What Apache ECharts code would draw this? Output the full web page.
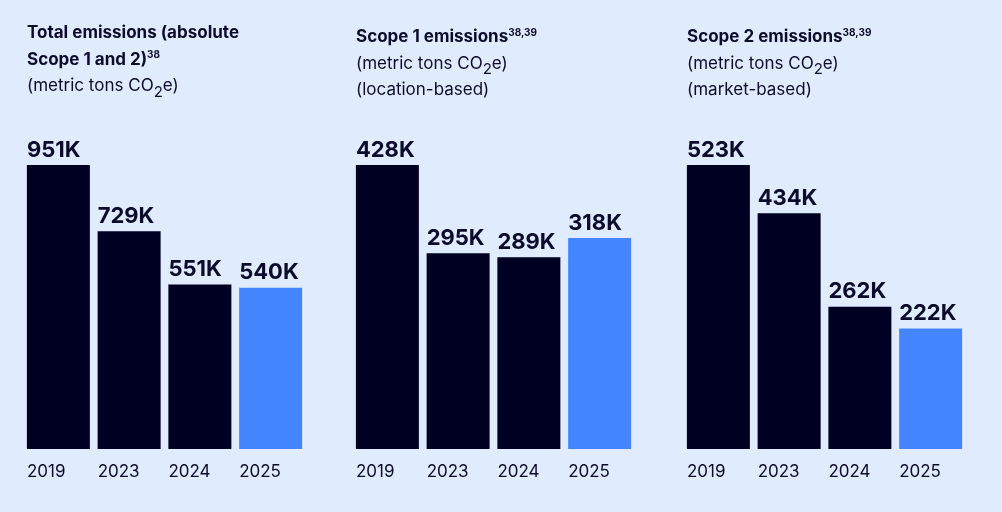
<!DOCTYPE html>
<html>
<head>
<meta charset="utf-8">
<script src="https://cdn.jsdelivr.net/npm/echarts@6/dist/echarts.min.js"></script>
<style>
  html, body { margin: 0; padding: 0; background: #e0ebfd; }
  #main { width: 1002px; height: 512px; }
</style>
</head>
<body>
<div id="main"></div>
<script>
// 数据
var years = ['2019', '2023', '2024', '2025'];
var totalEmissions = [951, 729, 551, 540];
var scope1Emissions = [428, 295, 289, 318];
var scope2Emissions = [523, 434, 262, 222];

var navy = '#000022';
var blue = '#4485fe';
var textColor = '#0b0b2c';
var font = 'Inter';

var myChart = echarts.init(document.getElementById('main'));

var titleRich = {
    b: { fontFamily: font, fontSize: 17, fontWeight: 'bold', color: textColor, lineHeight: 26.5 },
    n: { fontFamily: font, fontSize: 17, fontWeight: 'normal', color: textColor, lineHeight: 26.5 },
    sup: { fontFamily: font, fontSize: 10, fontWeight: 'bold', color: textColor, verticalAlign: 'middle', padding: [0, 0, 9, 0] },
    sub: { fontFamily: font, fontSize: 15, fontWeight: 'normal', color: textColor, lineHeight: 26, verticalAlign: 'bottom' }
};

function makeTitle(text, left, top) {
    return {
        text: text,
        left: left,
        top: top,
        padding: 0,
        textStyle: { rich: titleRich }
    };
}

// 三个面板的左边位置
var gridLefts = [23, 352, 683];

function makeSeries(data, idx) {
    return {
        type: 'bar',
        xAxisIndex: idx,
        yAxisIndex: idx,
        barWidth: 63,
        data: data,
        itemStyle: {
            color: function (p) { return p.dataIndex === data.length - 1 ? blue : navy; }
        },
        label: {
            show: true,
            position: [0, -4],
            align: 'left',
            verticalAlign: 'bottom',
            formatter: '{c}K',
            fontFamily: font,
            fontSize: 22,
            fontWeight: 'bold',
            color: textColor
        },
        silent: true
    };
}

var option = {
    backgroundColor: '#e0ebfd',
    animation: false,
    title: [
        makeTitle('{b|Total emissions (absolute}\n{b|Scope 1 and 2)}{sup|38}\n{n|(metric tons CO}{sub|2}{n|e)}', 27, 20),
        makeTitle('{b|Scope 1 emissions}{sup|38,39}\n{n|(metric tons CO}{sub|2}{n|e)}\n{n|(location-based)}', 356, 24),
        makeTitle('{b|Scope 2 emissions}{sup|38,39}\n{n|(metric tons CO}{sub|2}{n|e)}\n{n|(market-based)}', 687, 24)
    ],
    grid: gridLefts.map(function (l) {
        return { left: l, width: 283, top: 165, bottom: 63 };
    }),
    xAxis: gridLefts.map(function (l, i) {
        return {
            type: 'category',
            gridIndex: i,
            data: years,
            axisLine: { show: false },
            axisTick: { show: false },
            axisLabel: {
                margin: 14,
                formatter: '{y|{value}}',
                rich: {
                    y: { width: 63, align: 'left', fontFamily: font, fontSize: 17, color: textColor }
                }
            }
        };
    }),
    yAxis: gridLefts.map(function (l, i) {
        return {
            type: 'value',
            gridIndex: i,
            min: 0,
            max: 'dataMax',
            show: false,
            splitLine: { show: false }
        };
    }),
    series: [
        makeSeries(totalEmissions, 0),
        makeSeries(scope1Emissions, 1),
        makeSeries(scope2Emissions, 2)
    ]
};

myChart.setOption(option);
</script>
</body>
</html>
